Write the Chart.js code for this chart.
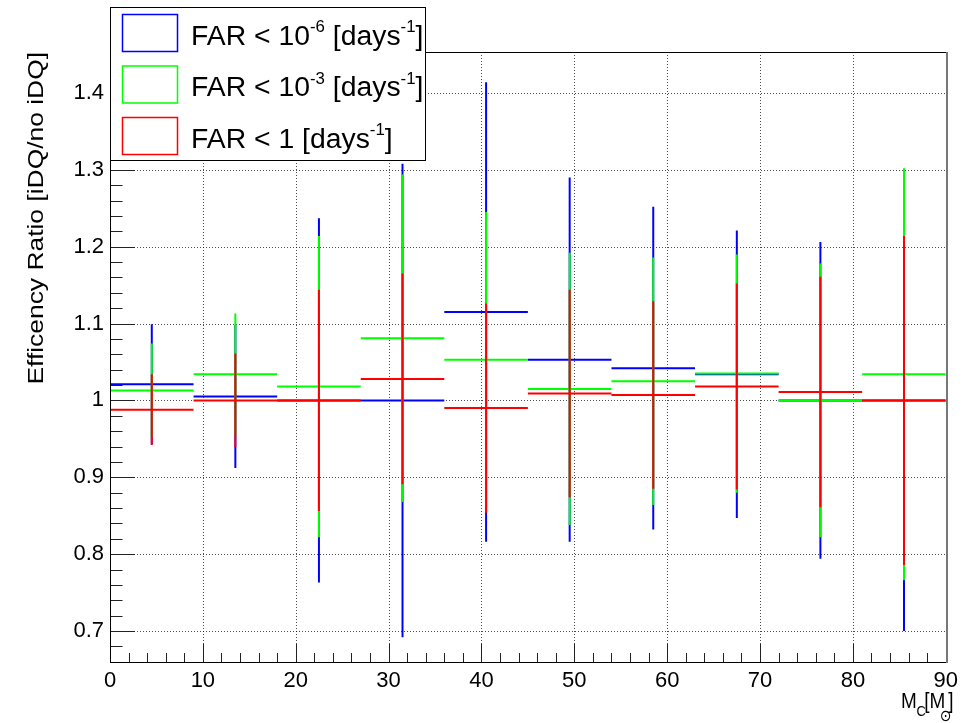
<!DOCTYPE html>
<html>
<head>
<meta charset="utf-8">
<title>Efficency Ratio</title>
<script src="https://cdn.jsdelivr.net/npm/chart.js@4.4.1/dist/chart.umd.min.js"></script>
<style>
  html, body { margin: 0; padding: 0; background: #fff; }
  #wrap { width: 964px; height: 723px; }
</style>
</head>
<body>
<div id="wrap"><canvas id="chart-1" width="964" height="723"></canvas></div>
<script>
// chirp mass bins
const binEdges = [0, 9, 18, 27, 36, 45, 54, 63, 72, 81, 90];
const xTicks = [0, 10, 20, 30, 40, 50, 60, 70, 80, 90];
const yTicks = [0.7, 0.8, 0.9, 1.0, 1.1, 1.2, 1.3, 1.4];

// FAR < 1e-6
const ratio6 = [1.021, 1.005, 1.000, 1.000, 1.115, 1.053, 1.042, 1.034, 1.000, 1.000];
const err6 = [0.078, 0.093, 0.237, 0.308, 0.299, 0.237, 0.210, 0.187, 0.206, 0.300];
// FAR < 1e-3
const ratio3 = [1.013, 1.034, 1.018, 1.081, 1.053, 1.015, 1.025, 1.035, 1.000, 1.034];
const err3 = [0.061, 0.079, 0.196, 0.213, 0.192, 0.177, 0.161, 0.155, 0.178, 0.268];
// FAR < 1
const ratio1 = [0.988, 1.000, 1.000, 1.028, 0.990, 1.009, 1.007, 1.018, 1.011, 1.000];
const err1 = [0.046, 0.061, 0.144, 0.137, 0.136, 0.135, 0.122, 0.134, 0.150, 0.214];

const labels = ["FAR < 10^{-6} [days^{-1}]", "FAR < 10^{-3} [days^{-1}]", "FAR < 1 [days^{-1}]"];
const colors = ["#0000ff", "#00ff00", "#ff0000"];

const FONT = '"Liberation Sans", Arial, "DejaVu Sans", sans-serif';

// histogram with error bars -> line segments separated by gaps
function histSegments(vals, errs) {
  var pts = [];
  for (var i = 0; i < vals.length; i++) {
    var lo = binEdges[i], hi = binEdges[i + 1], c = (lo + hi) / 2;
    pts.push({ x: lo, y: vals[i] }, { x: hi, y: vals[i] }, { x: hi, y: null });
    pts.push({ x: c, y: vals[i] - errs[i] }, { x: c, y: vals[i] + errs[i] }, { x: c, y: null });
  }
  return pts;
}

function histDataset(label, vals, errs, color, order) {
  return {
    label: label,
    data: histSegments(vals, errs),
    showLine: true,
    spanGaps: false,
    borderColor: color,
    borderWidth: 2,
    pointRadius: 0,
    tension: 0,
    order: order,
  };
}

// text with ^{...} superscripts
function drawRich(ctx, str, x, y, size, sx) {
  var parts = str.split(/\^\{([^}]*)\}/);
  ctx.save();
  ctx.translate(x, y);
  ctx.scale(sx, 1);
  ctx.textAlign = "left";
  ctx.textBaseline = "alphabetic";
  var cx = 0;
  for (var i = 0; i < parts.length; i++) {
    if (!parts[i]) continue;
    if (i % 2 === 0) {
      ctx.font = size + "px " + FONT;
      ctx.fillText(parts[i], cx, 0);
    } else {
      ctx.font = Math.round(size * 0.6) + "px " + FONT;
      ctx.fillText(parts[i], cx, -size * 0.46);
    }
    cx += ctx.measureText(parts[i]).width;
  }
  ctx.restore();
}

const rootStyle = {
  id: "rootStyle",
  beforeDraw(chart) {
    var ctx = chart.ctx;
    ctx.save();
    ctx.fillStyle = "#fff";
    ctx.fillRect(0, 0, chart.width, chart.height);
    ctx.restore();
  },
  beforeDatasetsDraw(chart) {
    var ctx = chart.ctx, a = chart.chartArea;
    var xs = chart.scales.x, ys = chart.scales.y;
    ctx.save();
    ctx.strokeStyle = "rgba(0,0,0,0.7)";
    ctx.lineWidth = 1;
    ctx.setLineDash([1, 2]);
    xTicks.forEach(function (v) {
      if (v <= xs.min || v >= xs.max) return;
      var px = Math.round(xs.getPixelForValue(v)) + 0.5;
      ctx.beginPath(); ctx.moveTo(px, a.top); ctx.lineTo(px, a.bottom); ctx.stroke();
    });
    yTicks.forEach(function (v) {
      var py = Math.round(ys.getPixelForValue(v)) + 0.5;
      ctx.beginPath(); ctx.moveTo(a.left, py); ctx.lineTo(a.right, py); ctx.stroke();
    });
    ctx.restore();
  },
  afterDraw(chart) {
    var ctx = chart.ctx, a = chart.chartArea;
    var xs = chart.scales.x, ys = chart.scales.y;
    ctx.save();
    // ticks (inside)
    ctx.strokeStyle = "#222";
    ctx.lineWidth = 1;
    for (var k = 33; k <= 72; k++) {
      var v = k * 0.02;
      if (v < ys.min || v > ys.max) continue;
      var py = Math.round(ys.getPixelForValue(v)) + 0.5;
      var len = (k % 5 === 0) ? 25 : 12.5;
      ctx.beginPath(); ctx.moveTo(a.left, py); ctx.lineTo(a.left + len, py); ctx.stroke();
    }
    for (var j = 0; j <= 45; j++) {
      var xv = j * 2;
      var px = Math.round(xs.getPixelForValue(xv)) + 0.5;
      var l2 = (xv % 10 === 0) ? 18 : 9;
      ctx.beginPath(); ctx.moveTo(px, a.bottom); ctx.lineTo(px, a.bottom - l2); ctx.stroke();
    }
    // frame
    ctx.strokeStyle = "#000";
    ctx.strokeRect(Math.round(a.left) + 0.5, Math.round(a.top) + 0.5, Math.round(a.right - a.left), Math.round(a.bottom - a.top));
    ctx.strokeStyle = "#777";
    ctx.lineWidth = 2;
    ctx.beginPath(); ctx.moveTo(Math.round(a.right) + 1, a.top); ctx.lineTo(Math.round(a.right) + 1, a.bottom + 1); ctx.stroke();

    // axis titles
    ctx.fillStyle = "#000";
    ctx.save();
    ctx.translate(43, 52);
    ctx.rotate(-Math.PI / 2);
    ctx.scale(1.2, 1);
    ctx.font = "22px " + FONT;
    ctx.textAlign = "right";
    ctx.textBaseline = "alphabetic";
    ctx.fillText("Efficency Ratio [iDQ/no iDQ]", 0, 0);
    ctx.restore();

    ctx.save();
    ctx.textBaseline = "alphabetic";
    ctx.textAlign = "left";
    ctx.translate(901, 708);
    ctx.scale(0.86, 1);
    ctx.font = "22px " + FONT;
    ctx.fillText("M", 0, 0);
    ctx.font = "15px " + FONT;
    ctx.fillText("C", 18, 8);
    ctx.font = "22px " + FONT;
    ctx.fillText("[M", 27, 0);
    ctx.font = "16px " + FONT;
    ctx.fillText("\u2299", 45, 13);
    ctx.font = "22px " + FONT;
    ctx.fillText("]", 55, 0);
    ctx.restore();

    // legend
    ctx.fillStyle = "#fff";
    ctx.fillRect(110, 7, 315, 153);
    ctx.strokeStyle = "#000";
    ctx.lineWidth = 1;
    ctx.strokeRect(110.5, 7.5, 315, 153);
    for (var i = 0; i < labels.length; i++) {
      var top = 14 + i * 51.5;
      ctx.strokeStyle = colors[i];
      ctx.lineWidth = 1.5;
      ctx.strokeRect(122.5, top + 0.5, 55, 37);
      ctx.fillStyle = "#000";
      drawRich(ctx, labels[i], 191, top + 30.5, 27, 1.05);
    }
    ctx.restore();
  },
};

const ctx1 = document.getElementById("chart-1");

var chartData = {
  datasets: [
    histDataset(labels[0], ratio6, err6, colors[0], 3),
    histDataset(labels[1], ratio3, err3, colors[1], 2),
    histDataset(labels[2], ratio1, err1, colors[2], 1),
  ],
};

var chartOptions = {
  responsive: false,
  animation: false,
  layout: { padding: { left: 0, right: 15, top: 52, bottom: 0 } },
  plugins: {
    legend: { display: false },
    tooltip: { enabled: false },
  },
  scales: {
    x: {
      type: "linear",
      min: 0,
      max: 90,
      afterFit: function (s) { s.height = 61; },
      grid: { display: false, drawTicks: false },
      border: { display: false },
      ticks: {
        stepSize: 10,
        includeBounds: false,
        autoSkip: false,
        maxRotation: 0,
        padding: 6,
        color: "#000",
        font: { family: FONT, size: 22 },
      },
    },
    y: {
      type: "linear",
      min: 0.6597,
      max: 1.4533,
      afterFit: function (s) { s.width = 110; },
      grid: { display: false, drawTicks: false },
      border: { display: false },
      ticks: {
        stepSize: 0.1,
        includeBounds: false,
        padding: 6,
        color: "#000",
        font: { family: FONT, size: 22 },
        callback: function (v) { return String(+(+v).toFixed(1)); },
      },
    },
  },
};

var histChart = new Chart(ctx1, {
  type: "scatter",
  data: chartData,
  options: chartOptions,
  plugins: [rootStyle],
});
</script>
</body>
</html>
